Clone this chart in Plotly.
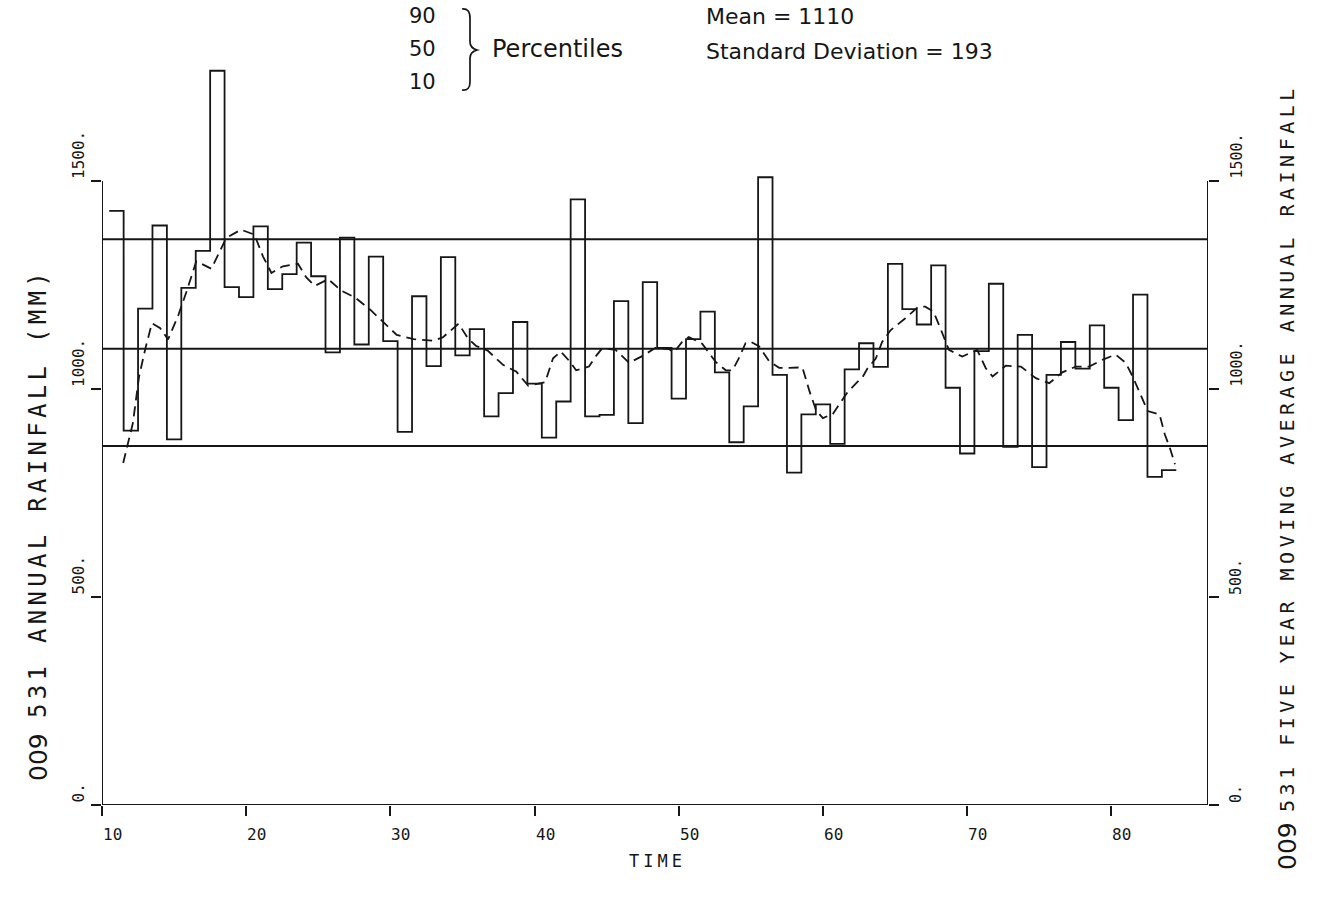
import plotly.graph_objects as go

# ---------------- data ----------------
years = list(range(11, 85))  # 74 annual steps
annual_rainfall = [
    1428, 900, 1193, 1393, 879, 1243, 1332, 1765, 1245, 1221,
    1391, 1240, 1276, 1352, 1271, 1088, 1364, 1107, 1318, 1115,
    897, 1223, 1055, 1317, 1081, 1144, 934, 990, 1161, 1013,
    883, 970, 1456, 934, 938, 1211, 918, 1257, 1099, 977,
    1120, 1186, 1040, 872, 958, 1509, 1034, 799, 939, 963,
    868, 1047, 1110, 1053, 1301, 1192, 1155, 1297, 1003, 845,
    1091, 1253, 861, 1130, 812, 1034, 1113, 1049, 1153, 1003,
    925, 1227, 789, 805,
]

ma_time = [
    11.47, 12.14, 12.57, 13.02, 13.46, 14.04, 14.58, 15.31, 15.87, 16.54,
    17.59, 18.61, 19.64, 20.57, 21.16, 21.75, 22.55, 23.59, 24.17, 24.76,
    25.69, 26.61, 27.55, 28.62, 29.53, 30.44, 31.62, 32.94, 33.63, 34.73,
    35.37, 35.92, 36.76, 37.81, 38.72, 39.56, 40.73, 41.28, 41.82, 42.39,
    42.88, 43.77, 44.23, 44.69, 45.62, 46.55, 47.46, 48.39, 49.31, 49.66,
    50.23, 50.69, 51.62, 52.56, 53.26, 53.72, 54.17, 54.63, 54.97, 55.56,
    56.26, 56.96, 57.65, 58.57, 59.05, 59.53, 59.99, 60.68, 61.14, 61.71,
    62.39, 62.75, 63.08, 63.66, 64.10, 64.68, 65.71, 66.62, 67.09, 67.66,
    68.14, 68.73, 69.66, 70.69, 71.29, 71.76, 72.67, 73.72, 74.76, 75.69,
    76.60, 77.53, 78.45, 79.37, 80.29, 80.99, 81.46, 81.93, 82.52, 83.34,
    83.70, 84.05, 84.41,
]
ma_value = [
    822, 918, 1030, 1099, 1158, 1146, 1119, 1179, 1235, 1307,
    1289, 1363, 1383, 1371, 1319, 1279, 1295, 1301, 1268, 1248,
    1264, 1236, 1220, 1190, 1160, 1130, 1120, 1116, 1124, 1157,
    1122, 1104, 1092, 1058, 1042, 1008, 1016, 1074, 1090, 1068,
    1045, 1054, 1078, 1098, 1094, 1063, 1079, 1099, 1096, 1088,
    1113, 1125, 1109, 1065, 1045, 1045, 1074, 1110, 1114, 1103,
    1067, 1051, 1051, 1052, 996, 948, 930, 940, 964, 993,
    1017, 1029, 1049, 1073, 1113, 1141, 1170, 1198, 1198, 1186,
    1146, 1094, 1078, 1094, 1050, 1030, 1056, 1054, 1026, 1014,
    1040, 1054, 1054, 1070, 1083, 1063, 1031, 995, 947, 939,
    891, 859, 819,
]

percentile_labels = ["90", "50", "10"]
percentile_values = [1360, 1097, 863]

x_ticks = [10, 20, 30, 40, 50, 60, 70, 80]
y_ticks = [0, 500, 1000, 1500]
y_tick_text = ["0.", "500.", "1000.", "1500."]

# ---------------- geometry ----------------
W, H = 1318, 903
ML, MR, MT, MB = 102, 110, 50, 98
PW, PH = W - ML - MR, H - MT - MB
X_MIN, X_MAX = 10, 10 + PW / 14.42
Y_MAX = PH / 0.416

def px(xp):
    return (xp - ML) / PW

def py(yp):
    return (H - MB - yp) / PH

INK = "#161616"
MONO = "DejaVu Sans Mono"
SANS = "DejaVu Sans"

# step outline built from the annual values
step_x, step_y = [], []
for yr, val in zip(years, annual_rainfall):
    step_x += [yr - 0.5, yr + 0.5]
    step_y += [val, val]

fig = go.Figure()

for val in percentile_values:
    fig.add_trace(go.Scatter(x=[X_MIN, X_MAX], y=[val, val], mode="lines",
                             line=dict(color=INK, width=2), hoverinfo="skip",
                             showlegend=False))

fig.add_trace(go.Scatter(x=step_x, y=step_y, mode="lines",
                         line=dict(color=INK, width=1.8), showlegend=False,
                         name="Annual rainfall"))

fig.add_trace(go.Scatter(x=ma_time, y=ma_value, mode="lines", yaxis="y2",
                         line=dict(color=INK, width=1.8, dash="10px,6px"),
                         showlegend=False, name="5-yr moving average"))

# axes drawn as lines (vertical axes stop at 1500)
shape_line = dict(color=INK, width=2)
fig.add_shape(type="line", xref="x", yref="y", x0=X_MIN, x1=X_MIN, y0=0, y1=1500, line=shape_line)
fig.add_shape(type="line", xref="x", yref="y", x0=X_MAX, x1=X_MAX, y0=0, y1=1500, line=shape_line)
fig.add_shape(type="line", xref="x", yref="y", x0=X_MIN, x1=X_MAX, y0=0, y1=0, line=shape_line)

# brace next to the percentile labels
brace_pts = "M {a},{b} Q {c},{d} {c},{e} L {c},{f} Q {c},{g} {h},{i} Q {c},{j} {c},{k} L {c},{l} Q {c},{m} {a},{n}".format(
    a=px(462), b=py(9), c=px(470), d=py(8), e=py(18), f=py(42), g=py(48),
    h=px(477), i=py(50), j=py(52), k=py(58), l=py(82), m=py(91), n=py(90))
fig.add_shape(type="path", xref="paper", yref="paper", path=brace_pts,
              line=dict(color=INK, width=1.7))

ann = []
# x tick labels (start at the tick)
for t in x_ticks:
    ann.append(dict(x=t, y=0, xref="x", yref="y", text=str(t), showarrow=False,
                    xanchor="left", yanchor="middle", yshift=-29, xshift=-1,
                    font=dict(family=MONO, size=16, color=INK)))
# y tick labels, rotated, starting at the tick
for v, txt in zip(y_ticks, y_tick_text):
    ann.append(dict(x=X_MIN, y=v, xref="x", yref="y", text=txt, showarrow=False,
                    textangle=-90, xanchor="center", yanchor="bottom",
                    xshift=-24, yshift=0,
                    font=dict(family=MONO, size=16, color=INK)))
    ann.append(dict(x=X_MAX, y=v, xref="x", yref="y", text=txt, showarrow=False,
                    textangle=-90, xanchor="center", yanchor="bottom",
                    xshift=28, yshift=0,
                    font=dict(family=MONO, size=15, color=INK)))

# axis titles
ann.append(dict(x=px(38), y=py(757), xref="paper", yref="paper", text="009",
                showarrow=False, textangle=-90, xanchor="center", yanchor="middle",
                font=dict(family=SANS, size=25, color=INK)))
ann.append(dict(x=px(38), y=py(493), xref="paper", yref="paper",
                text='<span style="letter-spacing:4.3px">531 ANNUAL RAINFALL (MM)</span>',
                showarrow=False, textangle=-90, xanchor="center", yanchor="middle",
                font=dict(family=MONO, size=24, color=INK)))
ann.append(dict(x=px(1287), y=py(846), xref="paper", yref="paper", text="009",
                showarrow=False, textangle=-90, xanchor="center", yanchor="middle",
                font=dict(family=SANS, size=25, color=INK)))
ann.append(dict(x=px(1287), y=py(448), xref="paper", yref="paper",
                text='<span style="letter-spacing:4.5px">531 FIVE YEAR MOVING AVERAGE ANNUAL RAINFALL</span>',
                showarrow=False, textangle=-90, xanchor="center", yanchor="middle",
                font=dict(family=MONO, size=20, color=INK)))
ann.append(dict(x=px(657), y=py(861), xref="paper", yref="paper",
                text='<span style="letter-spacing:4px">TIME</span>',
                showarrow=False, xanchor="center", yanchor="middle",
                font=dict(family=MONO, size=17, color=INK)))

# header text
for lab, ypos in zip(percentile_labels, [16, 49, 82]):
    ann.append(dict(x=px(422.5), y=py(ypos), xref="paper", yref="paper", text=lab,
                    showarrow=False, xanchor="center", yanchor="middle",
                    font=dict(family=SANS, size=21, color=INK)))
ann.append(dict(x=px(490), y=py(49), xref="paper", yref="paper", text="Percentiles",
                showarrow=False, xanchor="left", yanchor="middle",
                font=dict(family=SANS, size=24, color=INK)))
ann.append(dict(x=px(704), y=py(16), xref="paper", yref="paper", text="Mean = 1110",
                showarrow=False, xanchor="left", yanchor="middle",
                font=dict(family=SANS, size=22, color=INK)))
ann.append(dict(x=px(704), y=py(52), xref="paper", yref="paper",
                text="Standard Deviation = 193",
                showarrow=False, xanchor="left", yanchor="middle",
                font=dict(family=SANS, size=22, color=INK)))

axis_common = dict(showgrid=False, zeroline=False, showline=False,
                   ticks="outside", ticklen=10, tickwidth=2, tickcolor=INK,
                   showticklabels=False)

fig.update_layout(
    width=W, height=H,
    margin=dict(l=ML, r=MR, t=MT, b=MB, pad=0),
    paper_bgcolor="white", plot_bgcolor="white",
    showlegend=False,
    xaxis=dict(range=[X_MIN, X_MAX], tickvals=x_ticks, **axis_common),
    yaxis=dict(range=[0, Y_MAX], tickvals=y_ticks, **axis_common),
    yaxis2=dict(range=[0, Y_MAX], tickvals=y_ticks, overlaying="y", side="right",
                **axis_common),
    annotations=ann,
)

fig.write_html("out.html")
